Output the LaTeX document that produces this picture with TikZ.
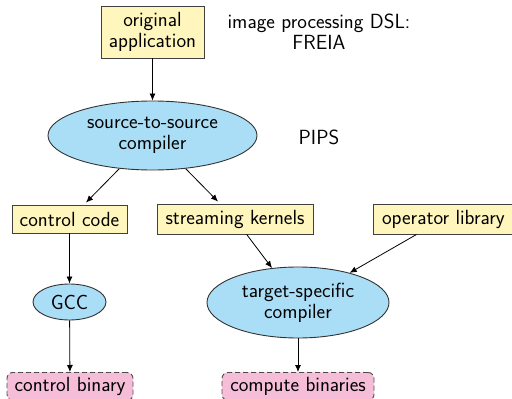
\documentclass[tikz,border=0pt]{standalone}
\usetikzlibrary{shapes.geometric,arrows.meta}
\definecolor{boxyellow}{HTML}{FFF6BE}
\definecolor{ellblue}{HTML}{AADDF6}
\definecolor{binpink}{HTML}{F5BDD8}
\begin{document}
\begin{tikzpicture}[x=1pt,y=-1pt,
  every node/.style={font=\sffamily\fontsize{20.5}{21}\selectfont, inner sep=0pt, align=center},
  ybox/.style={draw=black!75, fill=boxyellow, line width=0.9pt, rectangle},
  bell/.style={draw=black!80, fill=ellblue, line width=0.9pt, ellipse},
  pbin/.style={draw=black!70, fill=binpink, line width=0.9pt, dashed, dash pattern=on 5pt off 3pt, rounded corners=6pt, rectangle},
  arr/.style={draw=black, line width=0.8pt, -{Latex[length=7pt,width=6pt]}}]
\useasboundingbox (0,0) rectangle (512,399);
\node[ybox, minimum width=103, minimum height=52] (orig) at (152.5,32) {original\\application};
\node (dsl) at (319,32) {image processing DSL:\\FREIA};
\node[bell, minimum width=209, minimum height=69] (s2s) at (152.5,135.5) {source-to-source\\compiler};
\node (pips) at (319,137) {PIPS};
\node[ybox, minimum width=115, minimum height=28] (ctrl) at (69.5,219) {control code};
\node[ybox, minimum width=156, minimum height=30] (stream) at (235,219) {streaming kernels};
\node[ybox, minimum width=140, minimum height=30, anchor=west] (oplib) at (373,219) {operator library};
\node[bell, minimum width=73, minimum height=36] (gcc) at (69.5,302) {GCC};
\node[bell, minimum width=182, minimum height=71] (tsc) at (298,302.5) {target-specific\\compiler};
\node[pbin, minimum width=126, minimum height=28, anchor=north] (cbin) at (70,372) {control binary};
\node[pbin, minimum width=152, minimum height=28, anchor=north] (pbins) at (298,372) {compute binaries};
\draw[arr] (orig) -- (s2s);
\draw[arr] (s2s.225) -- ([xshift=16.5pt,yshift=2pt]ctrl.north);
\draw[arr] (s2s.315) -- ([xshift=-17pt,yshift=2pt]stream.north);
\draw[arr] (ctrl) -- (gcc);
\draw[arr] (stream) -- (tsc);
\draw[arr] (oplib) -- (tsc);
\draw[arr] (gcc) -- (cbin);
\draw[arr] (tsc) -- (pbins);
\end{tikzpicture}
\end{document}
